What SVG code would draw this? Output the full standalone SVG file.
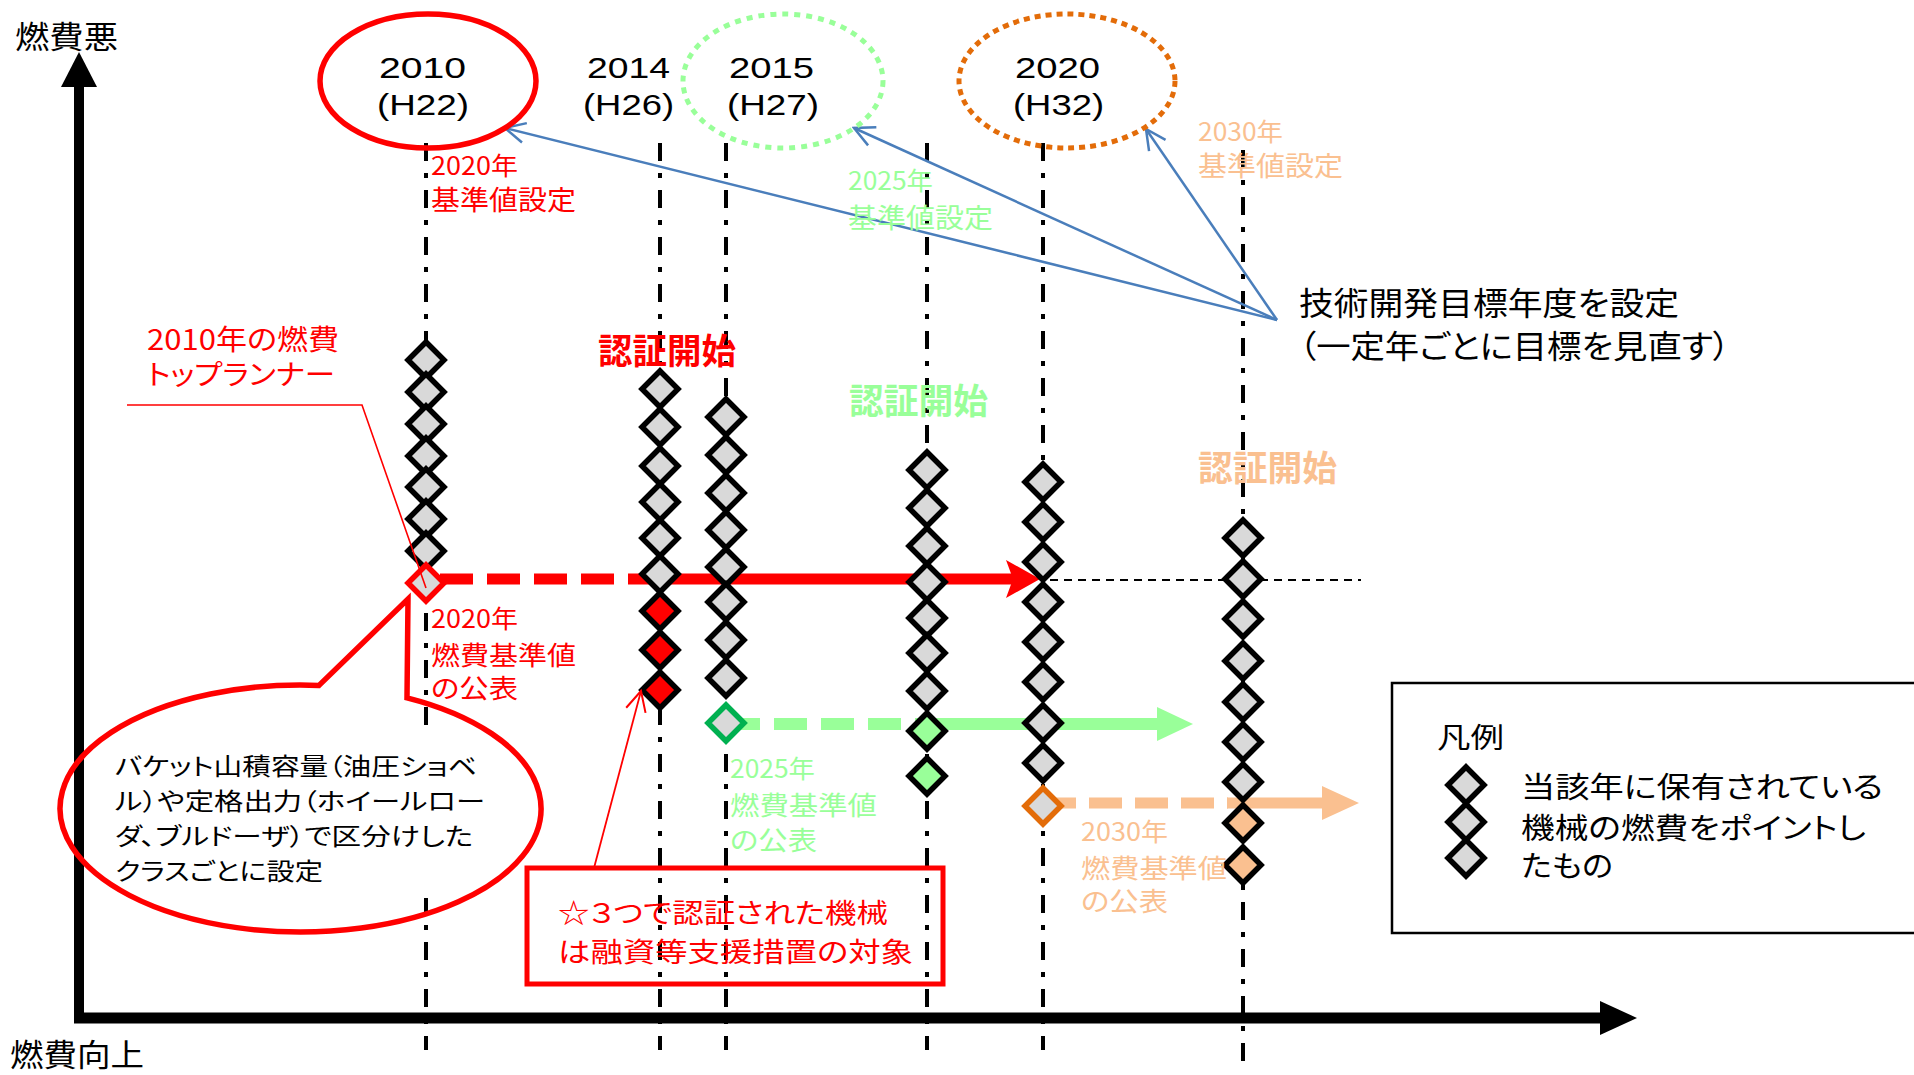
<svg xmlns="http://www.w3.org/2000/svg" width="1914" height="1075" viewBox="0 0 1914 1075">
<style>
text{font-family:"Noto Sans CJK JP","Noto Sans CJK SC",sans-serif;font-feature-settings:"palt";}
.lat{font-family:"Liberation Sans","Noto Sans CJK JP",sans-serif;font-feature-settings:normal;}
.b{font-weight:bold;}
.tk{fill:#000;} .tr{fill:#FF0000;} .tg{fill:#99FF99;} .to{fill:#FAC090;}
.dd{stroke:#000;stroke-width:4;stroke-dasharray:18 12 5 12;fill:none;}
.dg{fill:#D9D9D9;stroke:#000;stroke-width:5.5;}
.dr{fill:#FF0000;stroke:#000;stroke-width:5.5;}
.dlg{fill:#99FF99;stroke:#000;stroke-width:5.5;}
.dlo{fill:#FAC090;stroke:#000;stroke-width:5.5;}
.dRo{fill:#D9D9D9;stroke:#FF0000;stroke-width:5.5;}
.dGo{fill:#D9D9D9;stroke:#00B050;stroke-width:5.5;}
.dOo{fill:#D9D9D9;stroke:#E36C09;stroke-width:5.5;}
.blue{stroke:#4A7EBB;stroke-width:2.5;fill:none;}
</style>
<defs>
<path id="dm" d="M0,-18 L18,0 L0,18 L-18,0 Z"/>
<marker id="arB" viewBox="0 0 24 24" refX="22" refY="12" markerWidth="24" markerHeight="24" markerUnits="userSpaceOnUse" orient="auto"><path d="M2,2 L22,12 L2,22" fill="none" stroke="#4A7EBB" stroke-width="2.5"/></marker>
<marker id="arR" viewBox="0 0 24 24" refX="22" refY="12" markerWidth="24" markerHeight="24" markerUnits="userSpaceOnUse" orient="auto"><path d="M2,2 L22,12 L2,22" fill="none" stroke="#FF0000" stroke-width="2"/></marker>
</defs>
<rect x="0" y="0" width="1914" height="1075" fill="#fff"/>

<g id="year-lines">
<line class="dd" x1="426" y1="143" x2="426" y2="1050"/>
<line class="dd" x1="660" y1="143" x2="660" y2="1050"/>
<line class="dd" x1="726" y1="143" x2="726" y2="1050"/>
<line class="dd" x1="927" y1="143" x2="927" y2="1050"/>
<line class="dd" x1="1043" y1="143" x2="1043" y2="1050"/>
<line class="dd" x1="1243" y1="150" x2="1243" y2="1067"/>
</g>

<g id="axes">
<line x1="79" y1="84" x2="79" y2="1023" stroke="#000" stroke-width="10"/>
<polygon points="79,52 97,87 61,87" fill="#000"/>
<line x1="74" y1="1018" x2="1602" y2="1018" stroke="#000" stroke-width="11"/>
<polygon points="1637,1018 1600,1001 1600,1035" fill="#000"/>
<text x="15" y="48" font-size="31" textLength="103" lengthAdjust="spacingAndGlyphs" class="tk">燃費悪</text>
<text x="10" y="1066" font-size="31" textLength="134" lengthAdjust="spacingAndGlyphs" class="tk">燃費向上</text>
</g>

<g id="connectors">
<line x1="440" y1="579" x2="668" y2="579" stroke="#FF0000" stroke-width="11" stroke-dasharray="33 14"/>
<line x1="662" y1="579" x2="1014" y2="579" stroke="#FF0000" stroke-width="11"/>
<path d="M1040,579 L1006,560 L1013,579 L1006,598 Z" fill="#FF0000"/>
<line x1="1050" y1="580" x2="1361" y2="580" stroke="#000" stroke-width="2" stroke-dasharray="8 6"/>
<line x1="727" y1="724" x2="916" y2="724" stroke="#99FF99" stroke-width="12" stroke-dasharray="33 14"/>
<line x1="915" y1="724" x2="1162" y2="724" stroke="#99FF99" stroke-width="12"/>
<polygon points="1157,707 1193,724 1157,741" fill="#99FF99"/>
<line x1="1043" y1="803" x2="1228" y2="803" stroke="#FAC090" stroke-width="11" stroke-dasharray="33 13"/>
<line x1="1227" y1="803" x2="1325" y2="803" stroke="#FAC090" stroke-width="11"/>
<polygon points="1322,786 1359,803 1322,820" fill="#FAC090"/>
<line class="blue" x1="1277" y1="320" x2="505" y2="128" marker-end="url(#arB)"/>
<line class="blue" x1="1277" y1="320" x2="854" y2="128" marker-end="url(#arB)"/>
<line class="blue" x1="1277" y1="320" x2="1146" y2="129" marker-end="url(#arB)"/>
</g>

<g id="year-2010">
<ellipse cx="428" cy="81" rx="108" ry="67" fill="none" stroke="#FF0000" stroke-width="5.5"/>
<text class="lat tk" x="379" y="78" font-size="29" textLength="87" lengthAdjust="spacingAndGlyphs">2010</text>
<text class="lat tk" x="377" y="115" font-size="29" textLength="92" lengthAdjust="spacingAndGlyphs">(H22)</text>
</g>
<g id="year-2014">
<text class="lat tk" x="587" y="78" font-size="29" textLength="83" lengthAdjust="spacingAndGlyphs">2014</text>
<text class="lat tk" x="583" y="115" font-size="29" textLength="91" lengthAdjust="spacingAndGlyphs">(H26)</text>
</g>
<g id="year-2015">
<ellipse cx="783" cy="81" rx="100" ry="67" fill="none" stroke="#99FF99" stroke-width="5" stroke-dasharray="6 6"/>
<text class="lat tk" x="729" y="78" font-size="29" textLength="85" lengthAdjust="spacingAndGlyphs">2015</text>
<text class="lat tk" x="727" y="115" font-size="29" textLength="92" lengthAdjust="spacingAndGlyphs">(H27)</text>
</g>
<g id="year-2020">
<ellipse cx="1067" cy="81" rx="108" ry="67" fill="none" stroke="#E36C09" stroke-width="5" stroke-dasharray="6 5"/>
<text class="lat tk" x="1015" y="78" font-size="29" textLength="85" lengthAdjust="spacingAndGlyphs">2020</text>
<text class="lat tk" x="1013" y="115" font-size="29" textLength="91" lengthAdjust="spacingAndGlyphs">(H32)</text>
</g>

<g id="label-2020-setting">
<text class="tr" x="431" y="175" font-size="25" textLength="87" lengthAdjust="spacingAndGlyphs">2020年</text>
<text class="tr" x="431" y="210" font-size="27" textLength="145" lengthAdjust="spacingAndGlyphs">基準値設定</text>
</g>
<g id="label-2025-setting">
<text class="tg" x="848" y="190" font-size="25" textLength="85" lengthAdjust="spacingAndGlyphs">2025年</text>
<text class="tg" x="848" y="228" font-size="27" textLength="145" lengthAdjust="spacingAndGlyphs">基準値設定</text>
</g>
<g id="label-2030-setting">
<text class="to" x="1198" y="141" font-size="25" textLength="85" lengthAdjust="spacingAndGlyphs">2030年</text>
<text class="to" x="1198" y="176" font-size="27" textLength="145" lengthAdjust="spacingAndGlyphs">基準値設定</text>
</g>
<g id="tech-target">
<text class="tk" x="1299" y="315" font-size="32" textLength="380" lengthAdjust="spacingAndGlyphs">技術開発目標年度を設定</text>
<text class="tk" x="1299" y="358" font-size="32" textLength="431" lengthAdjust="spacingAndGlyphs">（一定年ごとに目標を見直す）</text>
</g>

<g id="toprunner">
<text class="tr" x="147" y="350" font-size="28" textLength="192" lengthAdjust="spacingAndGlyphs">2010年の燃費</text>
<text class="tr" x="147" y="385" font-size="28" textLength="188" lengthAdjust="spacingAndGlyphs">トップランナー</text>
</g>

<g id="cert-labels">
<text class="tr b" x="598" y="364" font-size="35" textLength="138" lengthAdjust="spacingAndGlyphs">認証開始</text>
<text class="tg b" x="849" y="414" font-size="35" textLength="139" lengthAdjust="spacingAndGlyphs">認証開始</text>
<text class="to b" x="1198" y="481" font-size="35" textLength="139" lengthAdjust="spacingAndGlyphs">認証開始</text>
</g>

<g id="col-2010">
<use href="#dm" class="dg" x="426" y="360"/>
<use href="#dm" class="dg" x="426" y="392"/>
<use href="#dm" class="dg" x="426" y="424"/>
<use href="#dm" class="dg" x="426" y="456"/>
<use href="#dm" class="dg" x="426" y="487"/>
<use href="#dm" class="dg" x="426" y="519"/>
<use href="#dm" class="dg" x="426" y="551"/>
<use href="#dm" class="dRo" x="426" y="583"/>
</g>
<g id="col-2014">
<use href="#dm" class="dg" x="660" y="389"/>
<use href="#dm" class="dg" x="660" y="427"/>
<use href="#dm" class="dg" x="660" y="466"/>
<use href="#dm" class="dg" x="660" y="502"/>
<use href="#dm" class="dg" x="660" y="538"/>
<use href="#dm" class="dg" x="660" y="574"/>
<use href="#dm" class="dr" x="660" y="611"/>
<use href="#dm" class="dr" x="660" y="650"/>
<use href="#dm" class="dr" x="660" y="690"/>
</g>
<g id="col-2015">
<use href="#dm" class="dg" x="726" y="417"/>
<use href="#dm" class="dg" x="726" y="455"/>
<use href="#dm" class="dg" x="726" y="493"/>
<use href="#dm" class="dg" x="726" y="530"/>
<use href="#dm" class="dg" x="726" y="567"/>
<use href="#dm" class="dg" x="726" y="602"/>
<use href="#dm" class="dg" x="726" y="640"/>
<use href="#dm" class="dg" x="726" y="678"/>
<use href="#dm" class="dGo" x="726" y="723"/>
</g>
<g id="col-2025">
<use href="#dm" class="dg" x="927" y="470"/>
<use href="#dm" class="dg" x="927" y="508"/>
<use href="#dm" class="dg" x="927" y="546"/>
<use href="#dm" class="dg" x="927" y="582"/>
<use href="#dm" class="dg" x="927" y="618"/>
<use href="#dm" class="dg" x="927" y="653"/>
<use href="#dm" class="dg" x="927" y="691"/>
<use href="#dm" class="dlg" x="927" y="731"/>
<use href="#dm" class="dlg" x="927" y="776"/>
</g>
<g id="col-2020">
<use href="#dm" class="dg" x="1043" y="482"/>
<use href="#dm" class="dg" x="1043" y="522"/>
<use href="#dm" class="dg" x="1043" y="562"/>
<use href="#dm" class="dg" x="1043" y="602"/>
<use href="#dm" class="dg" x="1043" y="642"/>
<use href="#dm" class="dg" x="1043" y="682"/>
<use href="#dm" class="dg" x="1043" y="723"/>
<use href="#dm" class="dg" x="1043" y="763"/>
<use href="#dm" class="dOo" x="1043" y="806"/>
</g>
<g id="col-2030">
<use href="#dm" class="dg" x="1243" y="538"/>
<use href="#dm" class="dg" x="1243" y="579"/>
<use href="#dm" class="dg" x="1243" y="619"/>
<use href="#dm" class="dg" x="1243" y="661"/>
<use href="#dm" class="dg" x="1243" y="702"/>
<use href="#dm" class="dg" x="1243" y="742"/>
<use href="#dm" class="dg" x="1243" y="782"/>
<use href="#dm" class="dlo" x="1243" y="823"/>
<use href="#dm" class="dlo" x="1243" y="865"/>
</g>

<g id="callout-line">
<polyline points="127,405 362,405 426,588" fill="none" stroke="#FF0000" stroke-width="1.6"/>
</g>

<g id="label-2020-publish">
<text class="tr" x="431" y="628" font-size="25" textLength="87" lengthAdjust="spacingAndGlyphs">2020年</text>
<text class="tr" x="431" y="665" font-size="26" textLength="145" lengthAdjust="spacingAndGlyphs">燃費基準値</text>
<text class="tr" x="431" y="698" font-size="26" textLength="87" lengthAdjust="spacingAndGlyphs">の公表</text>
</g>
<g id="label-2025-publish">
<text class="tg" x="730" y="778" font-size="25" textLength="85" lengthAdjust="spacingAndGlyphs">2025年</text>
<text class="tg" x="730" y="815" font-size="26" textLength="147" lengthAdjust="spacingAndGlyphs">燃費基準値</text>
<text class="tg" x="730" y="850" font-size="26" textLength="87" lengthAdjust="spacingAndGlyphs">の公表</text>
</g>
<g id="label-2030-publish">
<text class="to" x="1081" y="841" font-size="25" textLength="87" lengthAdjust="spacingAndGlyphs">2030年</text>
<text class="to" x="1081" y="878" font-size="26" textLength="146" lengthAdjust="spacingAndGlyphs">燃費基準値</text>
<text class="to" x="1081" y="911" font-size="26" textLength="87" lengthAdjust="spacingAndGlyphs">の公表</text>
</g>

<g id="bubble">
<rect x="108" y="730" width="385" height="168" fill="#fff"/>
<path d="M319,685.4 L408,599 L407,697.8 A240.5 123.5 0 1 1 319,685.4 Z" fill="none" stroke="#FF0000" stroke-width="5.5" stroke-linejoin="miter"/>
<text class="tk" x="115" y="775" font-size="24" textLength="362" lengthAdjust="spacingAndGlyphs">バケット山積容量（油圧ショベ</text>
<text class="tk" x="115" y="810" font-size="24" textLength="370" lengthAdjust="spacingAndGlyphs">ル）や定格出力（ホイールロー</text>
<text class="tk" x="115" y="845" font-size="24" textLength="358" lengthAdjust="spacingAndGlyphs">ダ、ブルドーザ）で区分けした</text>
<text class="tk" x="115" y="880" font-size="24" textLength="208" lengthAdjust="spacingAndGlyphs">クラスごとに設定</text>
</g>

<g id="support-box">
<line x1="594" y1="868" x2="641" y2="691" stroke="#FF0000" stroke-width="1.8" marker-end="url(#arR)"/>
<rect x="527" y="868" width="416" height="116" fill="none" stroke="#FF0000" stroke-width="5"/>
<text class="tr" x="558" y="923" font-size="27" textLength="330" lengthAdjust="spacingAndGlyphs">☆３つで認証された機械</text>
<text class="tr" x="558" y="962" font-size="27" textLength="355" lengthAdjust="spacingAndGlyphs">は融資等支援措置の対象</text>
</g>

<g id="legend">
<rect x="1392" y="683" width="600" height="250" fill="#fff" stroke="#000" stroke-width="2.5"/>
<text class="tk" x="1437" y="748" font-size="28" textLength="67" lengthAdjust="spacingAndGlyphs">凡例</text>
<use href="#dm" class="dg" x="1466" y="785"/>
<use href="#dm" class="dg" x="1466" y="822"/>
<use href="#dm" class="dg" x="1466" y="858"/>
<text class="tk" x="1521" y="798" font-size="29" textLength="362" lengthAdjust="spacingAndGlyphs">当該年に保有されている</text>
<text class="tk" x="1521" y="839" font-size="29" textLength="345" lengthAdjust="spacingAndGlyphs">機械の燃費をポイントし</text>
<text class="tk" x="1521" y="877" font-size="29" textLength="92" lengthAdjust="spacingAndGlyphs">たもの</text>
</g>
</svg>
